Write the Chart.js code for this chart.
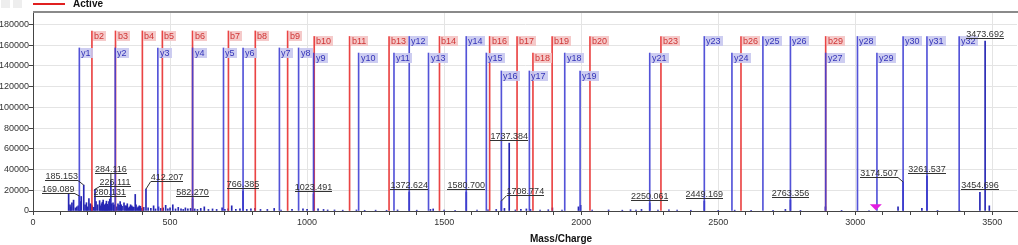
<!DOCTYPE html>
<html>
<head>
<meta charset="utf-8">
<script src="https://cdn.jsdelivr.net/npm/chart.js@4"></script>
<style>
  html, body { margin: 0; padding: 0; background: #fff; }
  #wrap { width: 1018px; height: 245px; }
</style>
</head>
<body>
<div id="wrap"><canvas id="spectrum" width="1018" height="245"></canvas></div>
<script>
// axis ticks
const xTicks = [];
for (let v = 0; v <= 3500; v += 100) xTicks.push(v);
const yTicks = [0, 20000, 40000, 60000, 80000, 100000, 120000, 140000, 160000, 180000];

// unlabelled peaks of the spectrum
const rawMz = [130, 135, 138, 142, 148, 155, 160, 165, 172, 176, 190, 195, 199, 204, 209, 213, 216, 222, 230, 236,
  243, 246, 250, 253, 256, 259, 262, 265, 268, 271, 274, 277, 287, 292, 295, 298, 305, 310, 314, 318,
  322, 325, 332, 336, 340, 344, 348, 352, 356, 360, 364, 368, 373, 376, 380, 384, 388, 392, 395, 400,
  404, 420, 430, 440, 447, 458, 466, 475, 484, 492, 500, 510, 520, 530, 540, 548, 556, 565, 575, 590,
  600, 612, 625, 640, 655, 670, 690, 700, 712, 725, 740, 755, 780, 795, 810, 830, 855, 880, 905, 945,
  985, 1000, 1040, 1060, 1075, 1100, 1130, 1180, 1210, 1250, 1290, 1330, 1400, 1450, 1460, 1500, 1540, 1620, 1660, 1690,
  1720, 1760, 1780, 1800, 1815, 1850, 1880, 1895, 1930, 1990, 1998, 2040, 2100, 2150, 2180, 2200, 2220, 2280, 2320, 2350,
  2400, 2500, 2560, 2620, 2700, 2745, 2800, 2891, 2950, 3050, 3156, 3243, 3300, 3380, 3489];
const rawIntensity = [16500, 6000, 4000, 8000, 10500, 3000, 4000, 5000, 9000, 14000, 6000, 8000, 4000, 12000, 7000, 6000, 5000, 3500, 9000, 6000,
  10000, 5000, 7000, 8500, 10500, 4000, 6000, 7000, 9500, 6500, 5000, 9000, 7000, 8000, 5500, 6000, 4000, 7000, 5500, 9000,
  6000, 4500, 8000, 5000, 5000, 7000, 3000, 4000, 6000, 5000, 4000, 3500, 16000, 6000, 3000, 4000, 5000, 4500, 2500, 3000,
  3500, 3000, 2500, 5000, 2000, 4000, 2500, 3000, 5500, 2000, 3000, 6000, 2000, 3500, 2000, 1500, 3000, 2000, 2500, 2000,
  1500, 2500, 4000, 1500, 2000, 1500, 3000, 1500, 2000, 5000, 1500, 2000, 1500, 2000, 2500, 1500, 1500, 2500, 1000, 1500,
  2000, 1500, 2000, 1500, 1000, 1000, 800, 1000, 700, 800, 700, 1000, 800, 1500, 2000, 800, 700, 800, 1200, 1500,
  2500, 1000, 1500, 2000, 1500, 1000, 1200, 3000, 800, 4000, 5500, 800, 1000, 800, 1200, 1000, 1500, 1000, 1200, 800,
  700, 600, 800, 600, 700, 1500, 600, 4000, 600, 500, 4000, 2500, 600, 700, 5000];

// peaks with an m/z label
const labelMz = [169.089, 185.153, 226.111, 280.131, 284.116, 412.207, 582.270, 766.385, 1023.491, 1372.624,
  1580.700, 1708.774, 1737.384, 2250.061, 2449.169, 2763.356, 3174.507, 3261.537, 3454.696, 3473.692];
const labelIntensity = [14500, 25000, 21000, 11500, 29000, 21200, 11600, 19300, 16400, 18300,
  18300, 9600, 65500, 7700, 9600, 10600, 28000, 33700, 18000, 163900];

// b ions (red) and y ions (blue); heights are the drawn marker heights
const bNames = ['b2', 'b3', 'b4', 'b5', 'b6', 'b7', 'b8', 'b9', 'b10', 'b11', 'b13', 'b14', 'b16', 'b17', 'b18', 'b19', 'b20', 'b23', 'b26', 'b29'];
const bMz = [215, 301, 399, 472, 582, 713, 811, 929, 1026, 1155, 1299, 1483, 1666, 1766, 1824, 1894, 2032, 2291, 2583, 2892];
const bHeight = [173700, 173700, 173700, 173700, 173700, 173700, 173700, 173700, 168400, 168400,
  168400, 168400, 168400, 168400, 152400, 168400, 168400, 168400, 168400, 168400];

const yNames = ['y1', 'y2', 'y3', 'y4', 'y5', 'y6', 'y7', 'y8', 'y9', 'y10', 'y11', 'y12', 'y13', 'y14', 'y15', 'y16',
  'y17', 'y18', 'y19', 'y21', 'y23', 'y24', 'y25', 'y26', 'y27', 'y28', 'y29', 'y30', 'y31', 'y32'];
const yMz = [169.1, 300, 455.5, 582.3, 695, 766.4, 899, 969, 1023.5, 1188, 1317, 1372.6, 1443, 1580.7, 1654, 1708.8,
  1811, 1940, 1996, 2250.1, 2449.2, 2550, 2663, 2763.4, 2892, 3008, 3079, 3174.5, 3261.5, 3379];
const yHeight = [157300, 157300, 157300, 157300, 157300, 157300, 157300, 157300, 152400, 152400, 152400, 168400, 152400, 168400, 152400, 135100,
  135100, 152400, 135100, 152400, 168400, 152400, 168400, 168400, 152400, 168400, 152400, 168400, 168400, 168400];

const precursorMz = 3075;
const precursorY = 3500;

// label placement tweaks (pixels) for crowded m/z labels
const labelNudge = {
  '169.089': [-21, 0], '185.153': [-22, -2], '226.111': [20, 0], '284.116': [0, -5],
  '412.207': [21, -5], '1708.774': [24, -3], '3174.507': [-24, -2]
};

const FONT = '"Liberation Sans", Arial, sans-serif';

const spectrum = rawMz.map((m, i) => ({ x: m, y: rawIntensity[i] }))
  .concat(labelMz.map((m, i) => ({ x: m, y: labelIntensity[i] })));

const overlay = {
  id: 'overlay',
  afterDatasetsDraw(chart) {
    const { ctx, scales: { x, y } } = chart;
    ctx.save();

    // ion tags
    ctx.font = '9px ' + FONT;
    const tag = (name, mz, h, fill, color) => {
      const px = Math.round(x.getPixelForValue(mz));
      const top = Math.round(y.getPixelForValue(h));
      const w = Math.round(ctx.measureText(name).width) + 3;
      ctx.fillStyle = fill;
      ctx.fillRect(px + 1, top, w, 10);
      ctx.fillStyle = color;
      ctx.fillText(name, px + 2, top + 8);
    };
    bNames.forEach((n, i) => tag(n, bMz[i], bHeight[i], 'rgba(244,196,196,0.9)', '#cf3434'));
    yNames.forEach((n, i) => tag(n, yMz[i], yHeight[i], 'rgba(200,200,240,0.9)', '#3434b8'));

    // m/z labels
    ctx.textAlign = 'center';
    ctx.strokeStyle = '#333';
    ctx.lineWidth = 1;
    labelMz.forEach((m, i) => {
      const txt = m.toFixed(3);
      const nudge = labelNudge[txt] || [0, 0];
      const px = x.getPixelForValue(m);
      const py = y.getPixelForValue(labelIntensity[i]);
      const cx = px + nudge[0];
      const base = py - 3 + nudge[1];
      const tw = ctx.measureText(txt).width;
      ctx.fillStyle = '#333';
      ctx.fillText(txt, cx, base - 1);
      ctx.beginPath();
      ctx.moveTo(Math.round(cx - tw / 2), Math.round(base) + 0.5);
      ctx.lineTo(Math.round(cx + tw / 2), Math.round(base) + 0.5);
      ctx.stroke();
      if (nudge[0] !== 0 || nudge[1] !== 0) {
        const ex = nudge[0] < 0 ? cx + tw / 2 : nudge[0] > 0 ? cx - tw / 2 : px;
        ctx.beginPath();
        ctx.moveTo(ex, base + 0.5);
        ctx.lineTo(px, py);
        ctx.stroke();
      }
    });

    // precursor marker
    const tx = x.getPixelForValue(precursorMz);
    const ty = y.getPixelForValue(precursorY);
    ctx.fillStyle = '#e21ce0';
    ctx.beginPath();
    ctx.moveTo(tx - 6, ty - 3);
    ctx.lineTo(tx + 6, ty - 3);
    ctx.lineTo(tx, ty + 3);
    ctx.closePath();
    ctx.fill();
    ctx.restore();
  },
  afterDraw(chart) {
    const { ctx, chartArea: a } = chart;
    ctx.save();
    // plot frame top
    ctx.strokeStyle = '#8a8a8a';
    ctx.lineWidth = 2;
    ctx.beginPath();
    ctx.moveTo(a.left, a.top);
    ctx.lineTo(chart.width, a.top);
    ctx.stroke();
    // toolbar remnants
    ctx.fillStyle = '#eeeeee';
    ctx.fillRect(1, 0, 9, 8);
    ctx.fillRect(13, 0, 9, 8);
    // legend
    ctx.strokeStyle = '#e02020';
    ctx.lineWidth = 2;
    ctx.beginPath();
    ctx.moveTo(33, 4);
    ctx.lineTo(65, 4);
    ctx.stroke();
    ctx.fillStyle = '#111';
    ctx.font = 'bold 10px ' + FONT;
    ctx.textBaseline = 'middle';
    ctx.fillText('Active', 73, 4);
    // axis title
    ctx.textAlign = 'center';
    ctx.fillText('Mass/Charge', 561, 239);
    ctx.restore();
  }
};

const isMajor = v => v % 500 === 0;

new Chart(document.getElementById('spectrum'), {
  type: 'bar',
  data: {
    datasets: [
      { label: 'Active', data: spectrum, backgroundColor: '#2626b4', barThickness: 1, grouped: false, order: 3 },
      { label: 'b', data: bMz.map((m, i) => ({ x: m, y: bHeight[i] })), backgroundColor: 'rgba(232,48,48,0.9)', barThickness: 1, grouped: false, order: 2 },
      { label: 'y', data: yMz.map((m, i) => ({ x: m, y: yHeight[i] })), backgroundColor: 'rgba(64,64,212,0.9)', barThickness: 1, grouped: false, order: 1 }
    ]
  },
  options: {
    responsive: false,
    animation: false,
    layout: { padding: { top: 12, right: 1, left: 0, bottom: 0 } },
    plugins: { legend: { display: false }, tooltip: { enabled: false } },
    scales: {
      x: {
        type: 'linear', min: 0, max: 3590, offset: false,
        grid: {
          offset: false,
          color: c => (c.tick && isMajor(c.tick.value) ? '#e4e4e4' : 'rgba(0,0,0,0)'),
          tickColor: '#444',
          tickLength: 4
        },
        border: { color: '#444', width: 1 },
        ticks: {
          autoSkip: false, maxRotation: 0, padding: 2,
          color: '#333', font: { family: FONT, size: 9 },
          callback: v => (isMajor(v) ? String(v) : '')
        },
        afterBuildTicks: s => { s.ticks = xTicks.map(v => ({ value: v })); },
        afterFit: s => { s.height = 34; }
      },
      y: {
        type: 'linear', min: 0, max: 192000,
        grid: { color: '#e4e4e4', tickColor: '#444', tickLength: 4 },
        border: { color: '#444', width: 1 },
        ticks: {
          autoSkip: false, padding: 0,
          color: '#333', font: { family: FONT, size: 9 },
          callback: v => String(v)
        },
        afterBuildTicks: s => { s.ticks = yTicks.map(v => ({ value: v })); },
        afterFit: s => { s.width = 33; }
      }
    }
  },
  plugins: [overlay]
});
</script>
</body>
</html>
